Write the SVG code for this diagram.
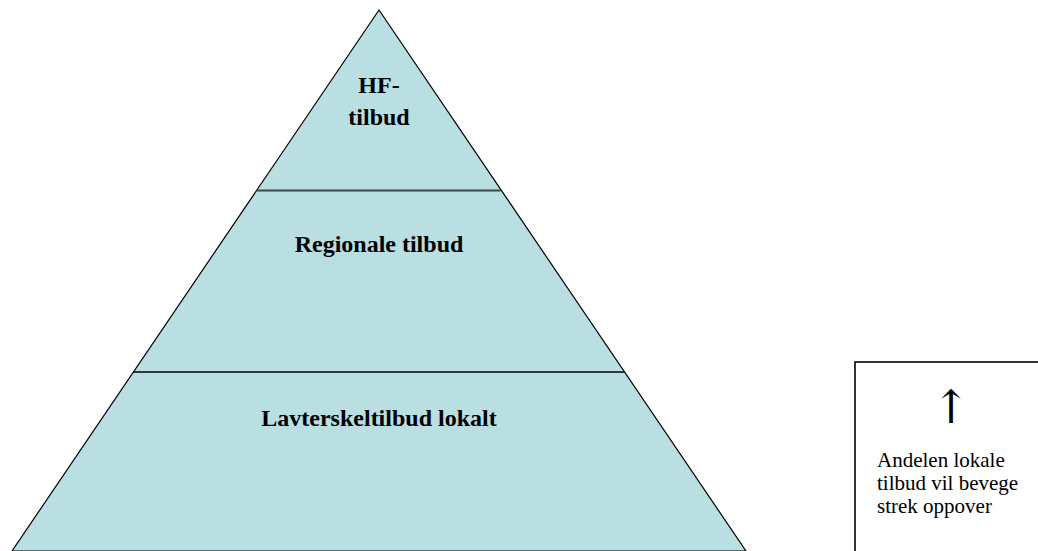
<svg xmlns="http://www.w3.org/2000/svg" width="1038" height="551" viewBox="0 0 1038 551">
<style>
.lbl{font-family:"Liberation Serif","Times New Roman",serif;font-weight:bold;font-size:24px;fill:#000;text-anchor:middle}
.note{font-family:"Liberation Serif","Times New Roman",serif;font-size:21px;fill:#000}
.arrow{font-family:"DejaVu Serif",serif;font-size:46px;fill:#000;text-anchor:middle}
</style>
<rect width="1038" height="551" fill="#ffffff"/>
<g id="pyramid">
<polygon points="379,10 12,551 746,551" fill="#b9dfe2" stroke="#000" stroke-width="1.2"/>
</g>
<g id="connectors">
<line x1="256.4" y1="190.5" x2="500.6" y2="190.5" stroke="#3a4848" stroke-width="2"/>
<line x1="133" y1="372" x2="624.5" y2="372" stroke="#000" stroke-width="1.6"/>
</g>
<g id="hf">
<text class="lbl" x="379" y="93">HF-</text>
<text class="lbl" x="379" y="125">tilbud</text>
</g>
<g id="regionale">
<text class="lbl" x="379" y="252">Regionale tilbud</text>
</g>
<g id="lokalt">
<text class="lbl" x="379" y="426">Lavterskeltilbud lokalt</text>
</g>
<g id="note">
<rect x="855" y="362" width="200" height="200" fill="#fff" stroke="#000" stroke-width="1.6"/>
<text class="arrow" x="951" y="423">↑</text>
<text class="note" x="877" y="467">Andelen lokale</text>
<text class="note" x="877" y="490">tilbud vil bevege</text>
<text class="note" x="877" y="513">strek oppover</text>
</g>
</svg>
